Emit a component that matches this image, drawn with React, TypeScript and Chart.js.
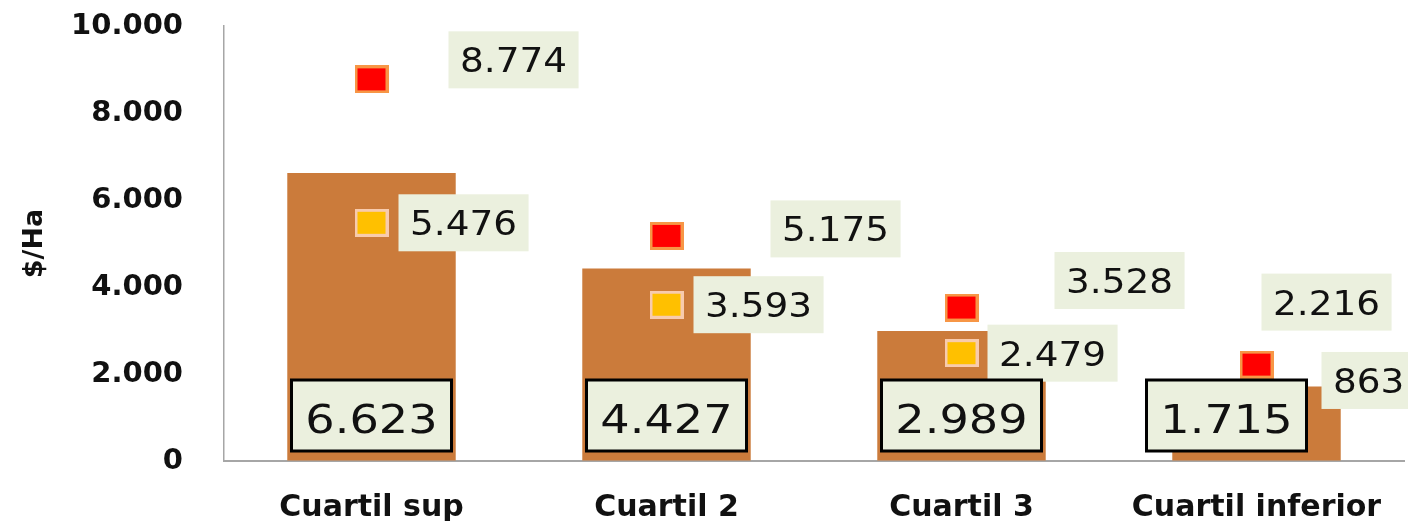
import { useEffect, useRef } from 'react';
import { Chart, registerables } from 'chart.js';

Chart.register(...registerables);

const categories = ['Cuartil sup', 'Cuartil 2', 'Cuartil 3', 'Cuartil inferior'];
const barValues = [6623, 4427, 2989, 1715];
const redValues = [8774, 5175, 3528, 2216];
const yellowValues = [5476, 3593, 2479, 863];
const yMin = 0;
const yMax = 10000;
const yStep = 2000;
const yTitle = '$/Ha';

// label placement (pixel offsets relative to the data point)
const redLabelDx = [77, 104, 93, 5];
const redLabelDy = [-19.5, -7, -27, -62.5];
const yellowLabelDx = [27, 27, 26, 65];
const yellowLabelDy = [0, 0, 0, -43];
const barLabelDx = [0, 0, 0, -30];

const FONT = '"DejaVu Sans", Verdana, sans-serif';
const LABEL_BG = '#EBF0DE';

const fmt = (n: number) => String(n).replace(/\B(?=(\d{3})+(?!\d))/g, '.');

function makeMarker(fill: string, border: string, bw: number) {
  const c = document.createElement('canvas');
  c.width = 34;
  c.height = 28;
  const g = c.getContext('2d')!;
  g.fillStyle = border;
  g.fillRect(0, 0, 34, 28);
  g.fillStyle = fill;
  g.fillRect(bw, bw, 34 - 2 * bw, 28 - 2 * bw);
  return c;
}

const labelPlugin = {
  id: 'customLabels',
  afterDatasetsDraw(chart: any) {
    const ctx = chart.ctx as CanvasRenderingContext2D;
    const drawText = (text: string, x: number, baseline: number, font: string, sx: number) => {
      ctx.save();
      ctx.font = font;
      ctx.fillStyle = '#111';
      ctx.textAlign = 'left';
      ctx.textBaseline = 'alphabetic';
      ctx.translate(x, baseline);
      ctx.scale(sx, 1);
      ctx.fillText(text, 0, 0);
      ctx.restore();
    };
    const pointFont = `34px ${FONT}`;
    const pointSx = 1.1;
    const padX = 11.5;
    const boxH = 57;
    const drawPointLabels = (dsIndex: number, values: number[], dx: number[], dy: number[]) => {
      const meta = chart.getDatasetMeta(dsIndex);
      meta.data.forEach((pt: any, i: number) => {
        const text = fmt(values[i]);
        ctx.save();
        ctx.font = pointFont;
        const tw = ctx.measureText(text).width * pointSx;
        ctx.restore();
        const left = pt.x + dx[i];
        const cy = pt.y + dy[i];
        ctx.fillStyle = LABEL_BG;
        ctx.fillRect(left, cy - boxH / 2, tw + 2 * padX, boxH);
        drawText(text, left + padX, cy + 12.5, pointFont, pointSx);
      });
    };
    drawPointLabels(0, redValues, redLabelDx, redLabelDy);
    drawPointLabels(1, yellowValues, yellowLabelDx, yellowLabelDy);

    // bar labels
    const barMeta = chart.getDatasetMeta(2);
    const y0 = chart.scales.y.getPixelForValue(0);
    const barFont = `38.5px ${FONT}`;
    const barSx = 1.2;
    barMeta.data.forEach((bar: any, i: number) => {
      const text = fmt(barValues[i]);
      const w = 160;
      const h = 71;
      const cx = bar.x + barLabelDx[i];
      const top = y0 - 10 - h;
      ctx.fillStyle = LABEL_BG;
      ctx.fillRect(cx - w / 2, top, w, h);
      ctx.strokeStyle = '#000';
      ctx.lineWidth = 3;
      ctx.strokeRect(cx - w / 2, top, w, h);
      ctx.save();
      ctx.font = barFont;
      const tw = ctx.measureText(text).width * barSx;
      ctx.restore();
      drawText(text, cx - tw / 2, top + 53, barFont, barSx);
    });
  },
};

export default function App() {
  const ref = useRef<HTMLCanvasElement>(null);
  useEffect(() => {
    const canvas = ref.current!;
    const redMarker = makeMarker('#FF0000', '#F79646', 3);
    const yellowMarker = makeMarker('#FFC000', '#F8CBAD', 3);
    const chart = new Chart(canvas, {
      type: 'bar',
      data: {
        labels: categories,
        datasets: [
          {
            type: 'line',
            data: redValues,
            showLine: false,
            pointStyle: redMarker as any,
            pointRadius: 1,
            pointHoverRadius: 1,
            pointBorderWidth: 0,
            borderWidth: 0,
            order: 1,
          } as any,
          {
            type: 'line',
            data: yellowValues,
            showLine: false,
            pointStyle: yellowMarker as any,
            pointRadius: 1,
            pointHoverRadius: 1,
            pointBorderWidth: 0,
            borderWidth: 0,
            order: 1,
          } as any,
          {
            type: 'bar',
            data: barValues,
            backgroundColor: '#CB7B3B',
            borderWidth: 0,
            barPercentage: 0.571,
            categoryPercentage: 1,
            order: 2,
          },
        ],
      },
      options: {
        responsive: false,
        animation: false,
        events: [],
        layout: { padding: { left: 0, right: 4, top: 26, bottom: 0 } },
        plugins: { legend: { display: false }, tooltip: { enabled: false } },
        scales: {
          x: {
            offset: true,
            grid: { display: true, drawOnChartArea: false, drawTicks: false },
            border: { display: true, color: '#A6A6A6', width: 2 },
            ticks: {
              color: '#111',
              font: { family: FONT, size: 30, weight: 'bold' },
              padding: 29,
              maxRotation: 0,
              autoSkip: false,
            },
            afterFit: (s: any) => {
              s.height = 60;
              s.paddingLeft = 0;
              s.paddingRight = 0;
            },
          },
          y: {
            min: yMin,
            max: yMax,
            grid: { display: true, drawOnChartArea: false, drawTicks: false },
            border: { display: true, color: '#A6A6A6', width: 1.5 },
            ticks: {
              stepSize: yStep,
              color: '#111',
              font: { family: FONT, size: 29, weight: 'bold' },
              padding: 41,
              callback: (v: any) => fmt(Number(v)),
            },
            title: {
              display: true,
              text: yTitle,
              color: '#111',
              font: { family: FONT, size: 27, weight: 'bold' },
              padding: { top: 19, bottom: 0 },
            },
            afterFit: (s: any) => {
              s.width = 224;
              s.paddingTop = 0;
              s.paddingBottom = 0;
            },
          },
        },
      },
      plugins: [labelPlugin],
    });
    return () => chart.destroy();
  }, []);
  return (
    <div style={{ position: 'absolute', left: 0, top: 0, width: 1408, height: 521, background: '#fff' }}>
      <canvas ref={ref} width={1408} height={521} />
    </div>
  );
}
